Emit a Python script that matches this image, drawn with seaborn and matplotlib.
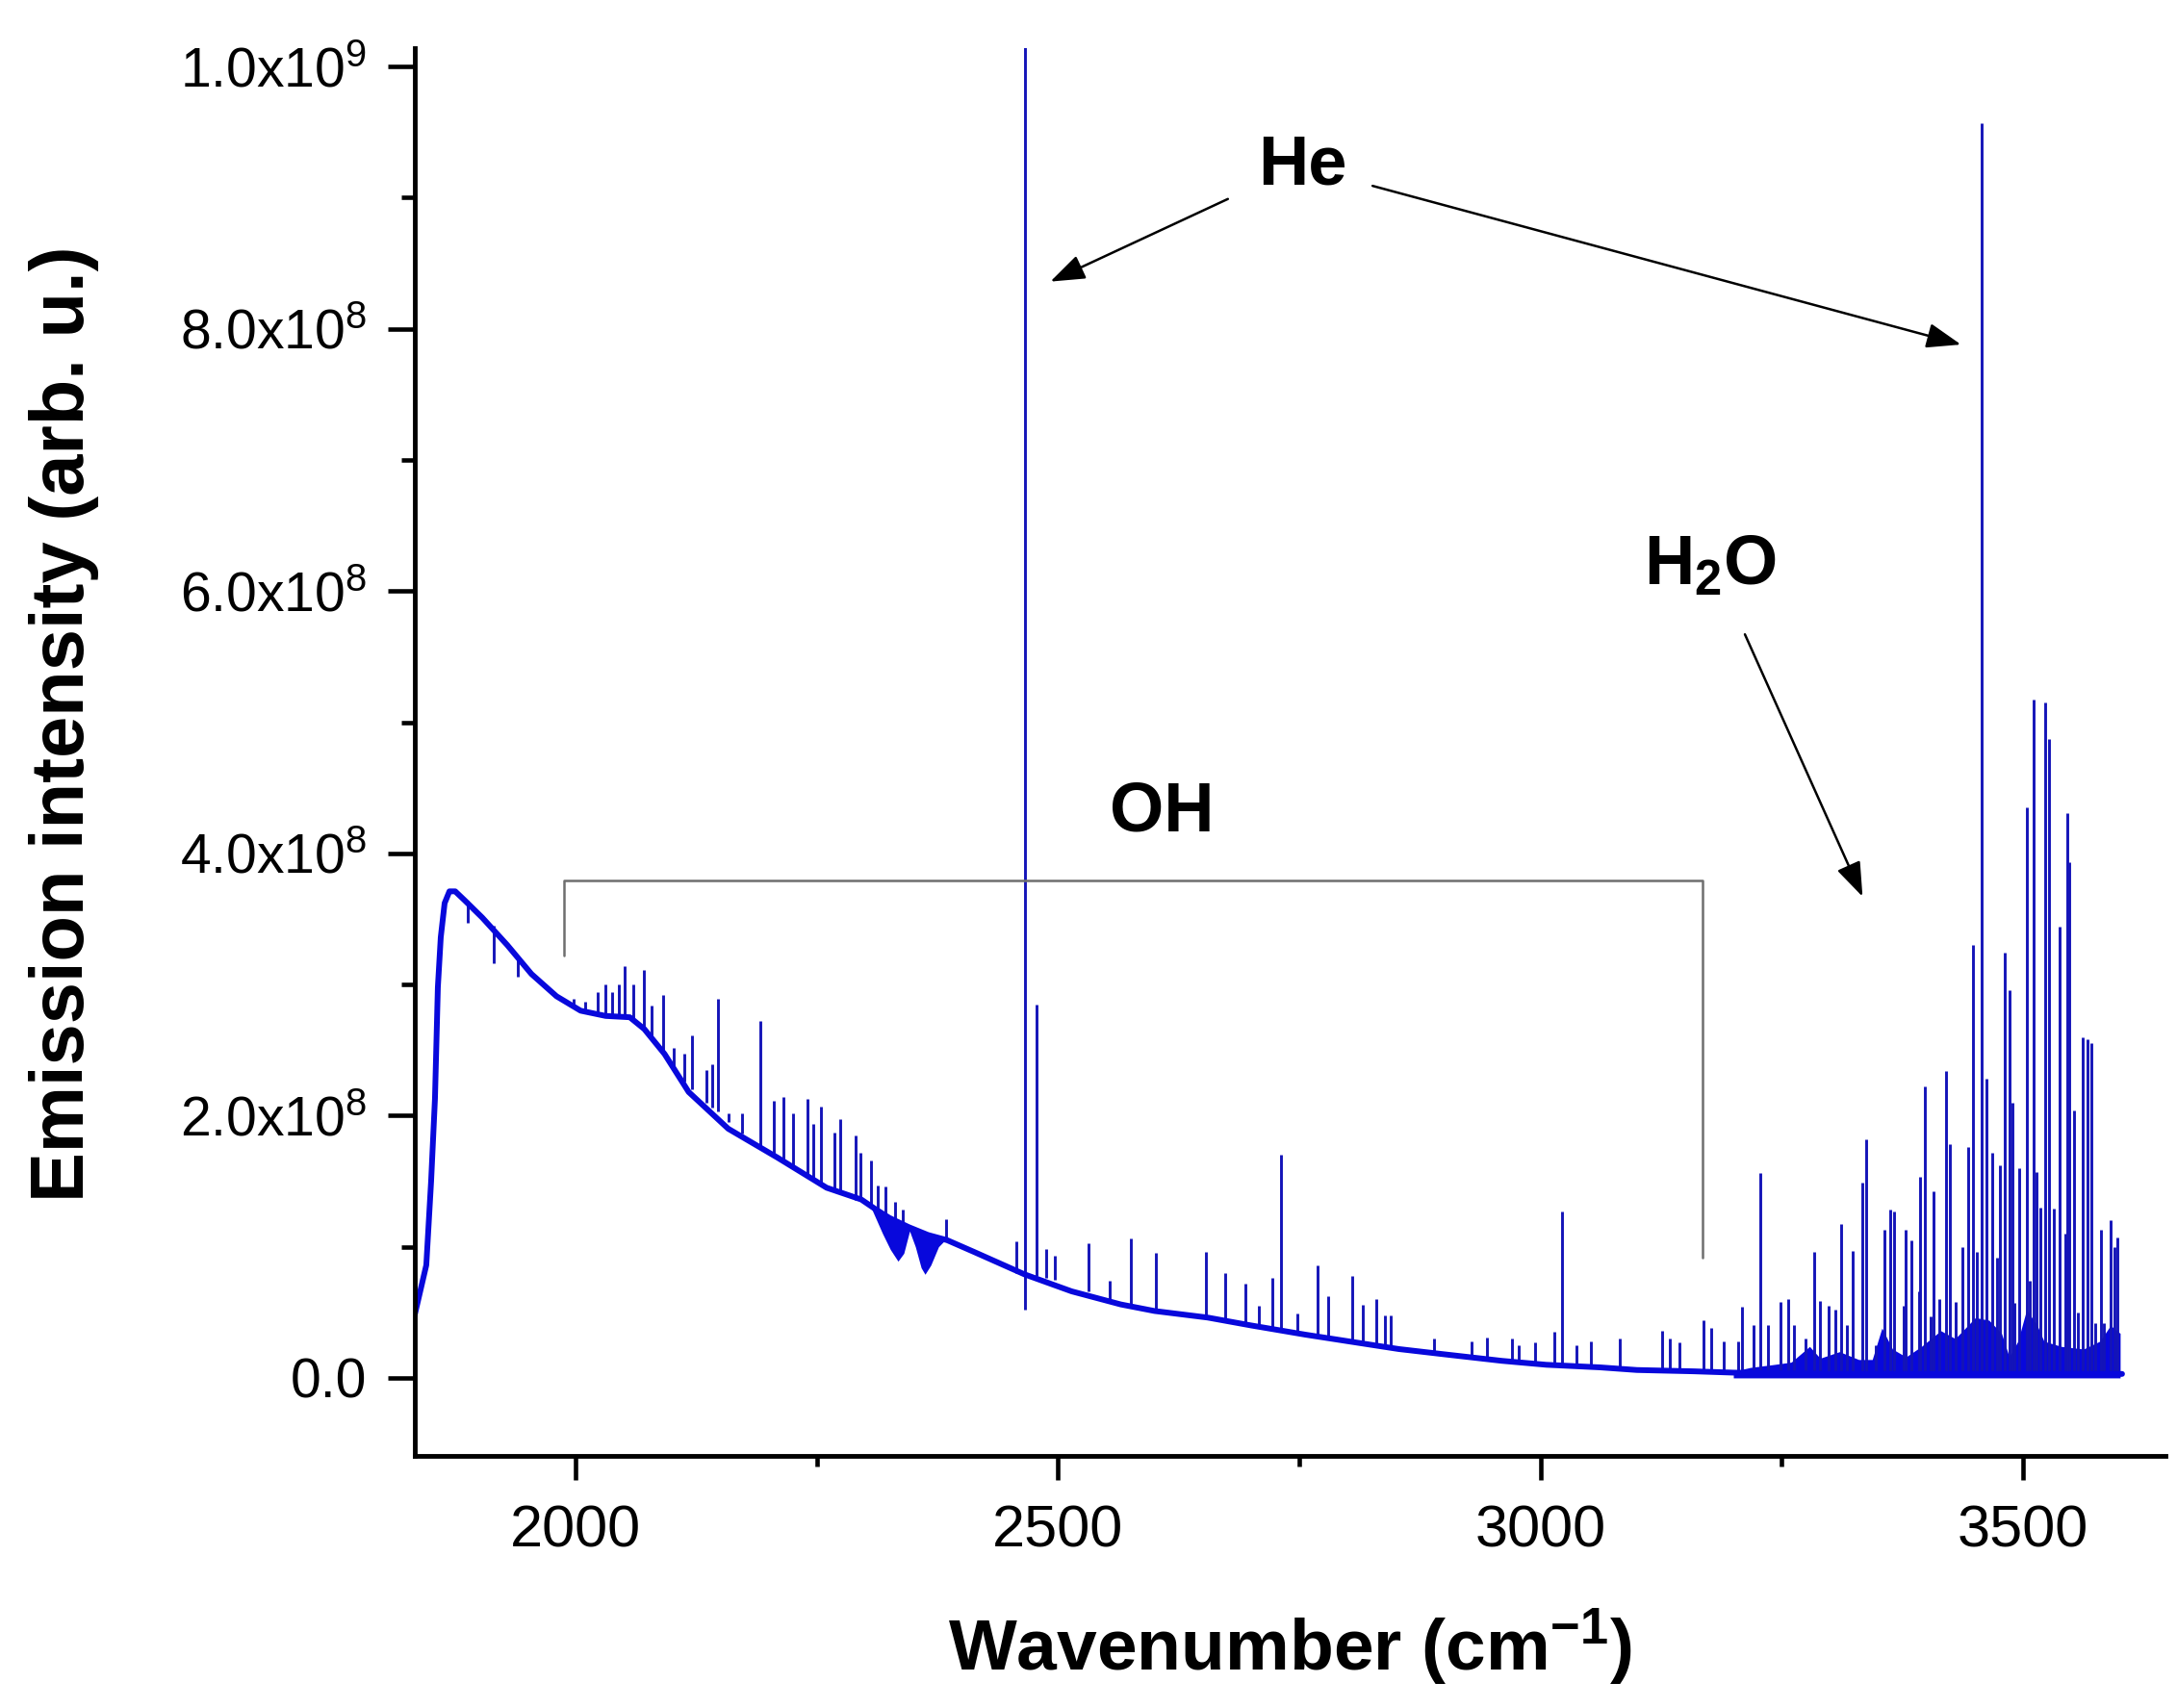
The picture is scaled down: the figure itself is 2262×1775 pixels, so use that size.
import matplotlib
matplotlib.use("Agg")
import matplotlib.pyplot as plt
import seaborn as sns
from matplotlib.ticker import MultipleLocator

# continuum (wavenumber, intensity in 1e8)
base_x = [1833, 1845, 1850, 1854, 1857, 1860, 1864, 1869, 1875, 1885, 1903, 1929,
          1954, 1980, 2005, 2031, 2056, 2071, 2092, 2117, 2158, 2209, 2260, 2296,
          2310, 2325, 2345, 2365, 2385, 2413, 2465, 2514, 2565, 2600, 2655, 2700,
          2756, 2800, 2853, 2900, 2960, 3006, 3062, 3100, 3159, 3200, 3300, 3400,
          3500, 3603]
base_y = [0.48, 0.86, 1.50, 2.13, 2.98, 3.36, 3.62, 3.71, 3.71, 3.64, 3.51, 3.30,
          3.08, 2.91, 2.80, 2.76, 2.75, 2.66, 2.47, 2.18, 1.90, 1.68, 1.45, 1.36,
          1.29, 1.22, 1.15, 1.09, 1.05, 0.96, 0.79, 0.66, 0.56, 0.51, 0.46, 0.40,
          0.33, 0.28, 0.22, 0.18, 0.13, 0.10, 0.08, 0.06, 0.05, 0.04, 0.03, 0.03,
          0.03, 0.03]

# dense absorption-like band near 2330-2380
dip_x = [2306, 2318, 2326, 2334, 2340, 2346, 2352, 2358, 2362, 2368, 2376, 2384]
dip_lo = [1.30, 1.10, 0.98, 0.89, 0.95, 1.12, 1.00, 0.84, 0.79, 0.86, 1.00, 1.06]
dip_hi = [1.30, 1.25, 1.21, 1.18, 1.16, 1.15, 1.13, 1.11, 1.10, 1.08, 1.07, 1.06]

# dense H2O forest close to zero
forest_x = [3200, 3218, 3240, 3260, 3279, 3290, 3310, 3330, 3344, 3354, 3365, 3379,
            3395, 3415, 3430, 3451, 3465, 3478, 3486, 3495, 3504, 3515, 3522, 3540,
            3563, 3580, 3591, 3601]
forest_hi = [0.05, 0.08, 0.10, 0.12, 0.24, 0.15, 0.20, 0.14, 0.14, 0.38, 0.22, 0.16,
             0.24, 0.36, 0.30, 0.46, 0.44, 0.34, 0.16, 0.28, 0.52, 0.40, 0.28, 0.24,
             0.22, 0.28, 0.40, 0.34]

# emission / absorption lines: position, lower end, upper end (1e8)
line_x = [1888, 1915, 1940,
          1998, 2010, 2023, 2031, 2038, 2045, 2051, 2060, 2071, 2079, 2091, 2101,
          2112, 2120, 2135, 2141, 2147, 2158, 2172, 2191, 2205, 2215, 2225, 2240,
          2246, 2254, 2268, 2274, 2290, 2295, 2306, 2313, 2321, 2331, 2339, 2384,
          2457, 2466, 2478, 2488, 2497,
          2532, 2553, 2575, 2601, 2653, 2673, 2694, 2708, 2722, 2731, 2748, 2769,
          2780, 2805, 2816, 2830, 2839, 2845, 2890, 2929, 2945, 2971, 2978, 2994,
          3014, 3022, 3037, 3052, 3082, 3126, 3134, 3144, 3169, 3177, 3190, 3205,
          3209, 3221, 3228, 3236, 3249, 3257, 3263, 3275, 3284, 3290, 3299, 3306,
          3312, 3318, 3324, 3334, 3338, 3348, 3357, 3363, 3367, 3377, 3379, 3385,
          3393, 3394, 3399, 3405, 3408, 3414, 3421, 3424, 3430, 3437, 3443, 3448,
          3452, 3457, 3462, 3468, 3473, 3476, 3481, 3486, 3489, 3491, 3496, 3504,
          3507, 3511, 3514, 3518, 3523, 3527, 3532, 3538, 3544, 3546, 3548, 3553,
          3557, 3562, 3567, 3571, 3575, 3581, 3584, 3591, 3595, 3598]
line_lo = [3.47, 3.16, 3.06,
           2.82, 2.78, 2.76, 2.76, 2.76, 2.76, 2.76, 2.74, 2.66, 2.60, 2.48, 2.38,
           2.26, 2.20, 2.10, 2.06, 2.03, 1.95, 1.86, 1.77, 1.70, 1.66, 1.62, 1.55,
           1.52, 1.49, 1.43, 1.41, 1.36, 1.35, 1.30, 1.26, 1.23, 1.19, 1.16, 1.05,
           0.80, 0.52, 0.78, 0.76, 0.75,
           0.66, 0.60, 0.56, 0.52, 0.46, 0.44, 0.41, 0.40, 0.38, 0.37, 0.35, 0.32,
           0.31, 0.28, 0.27, 0.25, 0.24, 0.23, 0.19, 0.15, 0.14, 0.12, 0.12, 0.11,
           0.10, 0.09, 0.09, 0.08, 0.07, 0.05, 0.05, 0.05, 0.04, 0.04, 0.04, 0.04,
           0.04, 0.04, 0.03, 0.03, 0.03, 0.03, 0.03, 0.03, 0.03, 0.03, 0.03, 0.03,
           0.03, 0.03, 0.03, 0.03, 0.03, 0.03, 0.03, 0.03, 0.03, 0.03, 0.03, 0.03,
           0.03, 0.03, 0.03, 0.03, 0.03, 0.03, 0.03, 0.03, 0.03, 0.03, 0.03, 0.03,
           0.03, 0.03, 0.03, 0.03, 0.03, 0.03, 0.03, 0.03, 0.03, 0.03, 0.03, 0.03,
           0.03, 0.03, 0.03, 0.03, 0.03, 0.03, 0.03, 0.03, 0.03, 0.03, 0.03, 0.03,
           0.03, 0.03, 0.03, 0.03, 0.03, 0.03, 0.03, 0.03, 0.03, 0.03]
line_hi = [3.64, 3.45, 3.22,
           2.89, 2.87, 2.94, 3.00, 2.94, 3.00, 3.14, 3.00, 3.11, 2.84, 2.92, 2.52,
           2.47, 2.61, 2.35, 2.39, 2.89, 2.02, 2.02, 2.72, 2.11, 2.14, 2.02, 2.13,
           1.94, 2.07, 1.87, 1.97, 1.85, 1.72, 1.66, 1.47, 1.46, 1.34, 1.28, 1.21,
           1.04, 10.2, 2.85, 0.98, 0.93,
           1.03, 0.74, 1.06, 0.95, 0.96, 0.80, 0.72, 0.55, 0.76, 1.70, 0.49, 0.86,
           0.62, 0.78, 0.56, 0.60, 0.48, 0.48, 0.30, 0.28, 0.31, 0.30, 0.25, 0.27,
           0.35, 1.27, 0.25, 0.28, 0.30, 0.36, 0.30, 0.27, 0.44, 0.38, 0.28, 0.28,
           0.54, 0.40, 1.56, 0.40, 0.58, 0.60, 0.40, 0.30, 0.96, 0.59, 0.55, 0.52,
           1.17, 0.40, 0.97, 1.49, 1.82, 0.25, 1.13, 1.28, 1.27, 0.55, 1.13, 1.05,
           0.66, 1.53, 2.22, 0.47, 1.42, 0.60, 2.34, 1.78, 0.58, 1.00, 1.76, 3.30,
           0.96, 9.57, 2.28, 1.72, 0.92, 1.62, 3.24, 2.96, 2.10, 0.57, 1.60, 4.35,
           0.74, 5.17, 1.57, 1.30, 5.15, 4.87, 1.29, 3.44, 1.10, 4.31, 3.93, 2.04,
           0.50, 2.60, 2.58, 2.55, 0.42, 1.13, 0.42, 1.20, 1.00, 1.07]

ytick_vals = [0, 2e8, 4e8, 6e8, 8e8, 1e9]
ytick_labels = ["0.0", r"2.0x10$^{8}$", r"4.0x10$^{8}$", r"6.0x10$^{8}$",
                r"8.0x10$^{8}$", r"1.0x10$^{9}$"]
xtick_vals = [2000, 2500, 3000, 3500]

# annotation anchors (data units, y in 1e8)
oh_bracket_x = [1988, 1988, 3168, 3168]
oh_bracket_y = [3.22, 3.79, 3.79, 0.92]

sns.set_style("ticks")
plt.rcParams["font.family"] = ["Liberation Sans", "DejaVu Sans"]
plt.rcParams["mathtext.fontset"] = "custom"
plt.rcParams["mathtext.rm"] = "Liberation Sans"
plt.rcParams["mathtext.it"] = "Liberation Sans:italic"
plt.rcParams["mathtext.bf"] = "Liberation Sans:bold"
for key in ["text.color", "axes.labelcolor", "xtick.color", "ytick.color",
            "axes.edgecolor"]:
    plt.rcParams[key] = "black"

blue = "#0808dc"
line_blue = "#1414b8"
E8 = 1e8

fig = plt.figure(figsize=(22.62, 17.75), dpi=100)
ax = fig.add_axes([0.1905, 0.1476, 0.8042, 0.8242])

ax.fill_between(forest_x, [0.0] * len(forest_x), [v * E8 for v in forest_hi],
                color=blue, lw=0)
ax.fill_between(dip_x, [v * E8 for v in dip_lo], [v * E8 for v in dip_hi],
                color=blue, lw=0)
ax.vlines(line_x, [v * E8 for v in line_lo], [v * E8 for v in line_hi],
          color=line_blue, lw=2.1)
sns.lineplot(x=base_x, y=[v * E8 for v in base_y], ax=ax, color=blue, lw=4.3,
             estimator=None, sort=False)

ax.plot(oh_bracket_x, [v * E8 for v in oh_bracket_y], color="#6e6e6e", lw=1.8)

arrow = dict(arrowstyle="-|>,head_length=0.55,head_width=0.2", color="black",
             lw=1.8, mutation_scale=40, shrinkA=0, shrinkB=0)
ax.annotate("", xy=(2492, 8.36 * E8), xytext=(2676, 8.99 * E8), arrowprops=arrow)
ax.annotate("", xy=(3436, 7.88 * E8), xytext=(2826, 9.09 * E8), arrowprops=arrow)
ax.annotate("", xy=(3334, 3.67 * E8), xytext=(3212, 5.67 * E8), arrowprops=arrow)

ax.text(2753, 9.10 * E8, "He", fontsize=52, fontweight="bold", ha="center",
        va="baseline")
ax.text(2608, 4.17 * E8, "OH", fontsize=52, fontweight="bold", ha="center",
        va="baseline")
ax.text(3176, 6.05 * E8, r"H$_{\mathbf{2}}$O", fontsize=52, fontweight="bold",
        ha="center", va="baseline")

ax.set_xlim(1833, 3648)
ax.set_ylim(-0.595e8, 1.014e9)
ax.set_xticks(xtick_vals)
ax.xaxis.set_minor_locator(MultipleLocator(250))
ax.set_yticks(ytick_vals)
ax.set_yticklabels(ytick_labels)
ax.yaxis.set_minor_locator(MultipleLocator(1e8))

ax.tick_params(axis="y", which="major", length=20, width=3.3, labelsize=41, pad=16)
ax.tick_params(axis="y", which="minor", length=10, width=3.3)
ax.tick_params(axis="x", which="major", length=18, width=3.3, labelsize=44, pad=18)
ax.tick_params(axis="x", which="minor", length=8, width=3.3)

sns.despine(ax=ax)
for side in ["left", "bottom"]:
    ax.spines[side].set_linewidth(3.5)

ax.set_xlabel(r"Wavenumber (cm$^{\mathbf{-1}}$)", fontsize=54, fontweight="bold")
ax.set_ylabel("Emission intensity (arb. u.)", fontsize=56, fontweight="bold")
ax.xaxis.set_label_coords(0.5, -0.107)
ax.yaxis.set_label_coords(-0.18, 0.52)

fig.savefig("out.png", dpi=100)
